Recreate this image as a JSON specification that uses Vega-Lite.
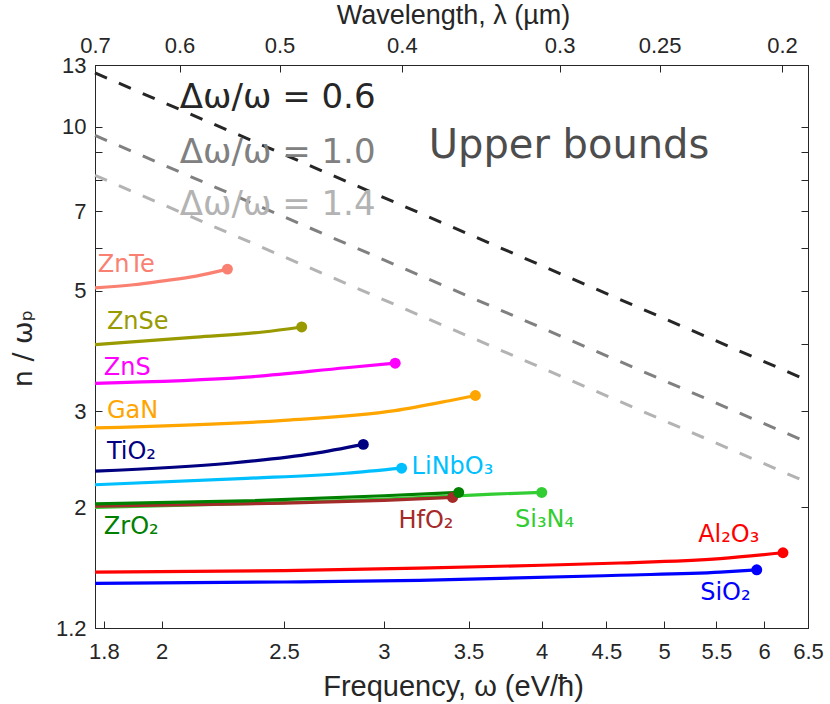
{
  "$schema": "https://vega.github.io/schema/vega-lite/v6.json",
  "width": 713,
  "height": 563,
  "autosize": {"type": "none"},
  "padding": {"left": 95, "top": 65, "right": 22, "bottom": 76},
  "background": "white",
  "datasets": {
    "curves": [
      {"key": "Al2O3", "w": 1.7712, "v": 1.52},
      {"key": "Al2O3", "w": 2.5, "v": 1.53},
      {"key": "Al2O3", "w": 3.2, "v": 1.546},
      {"key": "Al2O3", "w": 4.0, "v": 1.565},
      {"key": "Al2O3", "w": 4.61, "v": 1.58},
      {"key": "Al2O3", "w": 5.54, "v": 1.61},
      {"key": "Al2O3", "w": 6.21, "v": 1.65},
      {"key": "SiO2", "w": 1.7712, "v": 1.45},
      {"key": "SiO2", "w": 2.5, "v": 1.458},
      {"key": "SiO2", "w": 3.2, "v": 1.468},
      {"key": "SiO2", "w": 4.61, "v": 1.5},
      {"key": "SiO2", "w": 5.54, "v": 1.52},
      {"key": "SiO2", "w": 5.92, "v": 1.535},
      {"key": "ZnTe", "w": 1.7712, "v": 5.06},
      {"key": "ZnTe", "w": 1.9, "v": 5.13},
      {"key": "ZnTe", "w": 2.0, "v": 5.21},
      {"key": "ZnTe", "w": 2.13, "v": 5.32},
      {"key": "ZnTe", "w": 2.255, "v": 5.48},
      {"key": "ZnSe", "w": 1.7712, "v": 3.98},
      {"key": "ZnSe", "w": 2.13, "v": 4.11},
      {"key": "ZnSe", "w": 2.406, "v": 4.2},
      {"key": "ZnSe", "w": 2.582, "v": 4.29},
      {"key": "ZnS", "w": 1.7712, "v": 3.38},
      {"key": "ZnS", "w": 2.334, "v": 3.47},
      {"key": "ZnS", "w": 2.8, "v": 3.61},
      {"key": "ZnS", "w": 3.062, "v": 3.68},
      {"key": "GaN", "w": 1.7712, "v": 2.8},
      {"key": "GaN", "w": 2.5, "v": 2.89},
      {"key": "GaN", "w": 3.06, "v": 3.01},
      {"key": "GaN", "w": 3.38, "v": 3.14},
      {"key": "GaN", "w": 3.544, "v": 3.21},
      {"key": "TiO2", "w": 1.7712, "v": 2.33},
      {"key": "TiO2", "w": 2.264, "v": 2.41},
      {"key": "TiO2", "w": 2.636, "v": 2.51},
      {"key": "TiO2", "w": 2.889, "v": 2.61},
      {"key": "LiNbO3", "w": 1.7712, "v": 2.2},
      {"key": "LiNbO3", "w": 2.334, "v": 2.26},
      {"key": "LiNbO3", "w": 2.8, "v": 2.31},
      {"key": "LiNbO3", "w": 3.098, "v": 2.36},
      {"key": "Si3N4", "w": 1.7712, "v": 2.0},
      {"key": "Si3N4", "w": 2.5, "v": 2.04},
      {"key": "Si3N4", "w": 3.0, "v": 2.07},
      {"key": "Si3N4", "w": 3.44, "v": 2.1},
      {"key": "Si3N4", "w": 3.66, "v": 2.115},
      {"key": "Si3N4", "w": 4.0, "v": 2.13},
      {"key": "HfO2", "w": 1.7712, "v": 2.01},
      {"key": "HfO2", "w": 2.5, "v": 2.035},
      {"key": "HfO2", "w": 3.0, "v": 2.06},
      {"key": "HfO2", "w": 3.4, "v": 2.085},
      {"key": "ZrO2", "w": 1.7712, "v": 2.03},
      {"key": "ZrO2", "w": 2.33, "v": 2.055},
      {"key": "ZrO2", "w": 3.0, "v": 2.1},
      {"key": "ZrO2", "w": 3.438, "v": 2.13}
    ],
    "bounds": [
      {"key": "b06", "w": 1.7712, "v": 12.57},
      {"key": "b06", "w": 6.5, "v": 3.42},
      {"key": "b10", "w": 1.7712, "v": 9.65},
      {"key": "b10", "w": 6.5, "v": 2.63},
      {"key": "b14", "w": 1.7712, "v": 8.15},
      {"key": "b14", "w": 6.5, "v": 2.22}
    ],
    "names": [
      {"key": "ZnTe", "label": "ZnTe", "w": 1.78, "v": 5.42},
      {"key": "ZnSe", "label": "ZnSe", "w": 1.81, "v": 4.26},
      {"key": "ZnS", "label": "ZnS", "w": 1.8, "v": 3.5},
      {"key": "GaN", "label": "GaN", "w": 1.81, "v": 2.92},
      {"key": "TiO2", "label": "TiO₂", "w": 1.81, "v": 2.457},
      {"key": "LiNbO3", "label": "LiNbO₃", "w": 3.155, "v": 2.305},
      {"key": "ZrO2", "label": "ZrO₂", "w": 1.8, "v": 1.789},
      {"key": "HfO2", "label": "HfO₂", "w": 3.08, "v": 1.83},
      {"key": "Si3N4", "label": "Si₃N₄", "w": 3.81, "v": 1.84},
      {"key": "Al2O3", "label": "Al₂O₃", "w": 5.32, "v": 1.726},
      {"key": "SiO2", "label": "SiO₂", "w": 5.34, "v": 1.35}
    ],
    "boundnames": [
      {"key": "b06", "label": "Δω/ω = 0.6", "w": 2.067, "v": 10.83},
      {"key": "b10", "label": "Δω/ω = 1.0", "w": 2.067, "v": 8.58},
      {"key": "b14", "label": "Δω/ω = 1.4", "w": 2.067, "v": 6.89}
    ],
    "note": [
      {"label": "Upper bounds", "w": 3.255, "v": 8.77}
    ]
  },
  "encoding": {
    "x": {"field": "w", "type": "quantitative", "scale": {"type": "log", "domain": [1.7712, 6.5], "nice": false}, "axis": null},
    "y": {"field": "v", "type": "quantitative", "scale": {"type": "log", "domain": [1.2, 13], "nice": false}, "axis": null},
    "color": {
      "field": "key",
      "type": "nominal",
      "legend": null,
      "scale": {
        "domain": ["b06", "b10", "b14", "ZnTe", "ZnSe", "ZnS", "GaN", "TiO2", "LiNbO3", "ZrO2", "HfO2", "Si3N4", "Al2O3", "SiO2"],
        "range": ["#262626", "#808080", "#b3b3b3", "#fa8072", "#999900", "#ff00ff", "#ffa500", "#000080", "#00bfff", "#008000", "#a52a2a", "#32cd32", "#ff0000", "#0000ff"]
      }
    }
  },
  "layer": [
    {
      "data": {"name": "bounds"},
      "mark": {"type": "line", "strokeWidth": 3, "strokeDash": [13, 13]},
      "encoding": {
        "x": {
          "field": "w", "type": "quantitative",
          "scale": {"type": "log", "domain": [1.7712, 6.5], "nice": false},
          "axis": {
            "orient": "top",
            "values": [1.7712, 2.0664, 2.4797, 3.0996, 4.1328, 4.9594, 6.1992],
            "labelExpr": "format(1.23984 / datum.value, '.2~g')",
            "labelPadding": 20,
            "labelBaseline": "alphabetic",
            "title": "Wavelength, λ (µm)",
            "titleFontSize": 27,
            "titleX": 358,
            "titleY": -42,
            "titleAlign": "center",
            "titleBaseline": "alphabetic"
          }
        },
        "y": {
          "field": "v", "type": "quantitative",
          "scale": {"type": "log", "domain": [1.2, 13], "nice": false},
          "axis": {"orient": "right", "values": [2, 3, 4, 5, 6, 7, 8, 9, 10], "labels": false, "title": null}
        }
      }
    },
    {
      "data": {"name": "curves"},
      "mark": {"type": "line", "strokeWidth": 3.2, "interpolate": "monotone"},
      "encoding": {
        "x": {
          "field": "w", "type": "quantitative",
          "scale": {"type": "log", "domain": [1.7712, 6.5], "nice": false},
          "axis": {
            "orient": "bottom",
            "values": [1.8, 2, 2.5, 3, 3.5, 4, 4.5, 5, 5.5, 6, 6.5],
            "format": "~g",
            "labelPadding": 37,
            "labelBaseline": "alphabetic",
            "title": "Frequency, ω (eV/ħ)",
            "titleFontSize": 29,
            "titleX": 358,
            "titleY": 67,
            "titleAlign": "center",
            "titleBaseline": "alphabetic"
          }
        },
        "y": {
          "field": "v", "type": "quantitative",
          "scale": {"type": "log", "domain": [1.2, 13], "nice": false},
          "axis": {
            "orient": "left",
            "values": [1.2, 2, 3, 4, 5, 6, 7, 8, 9, 10, 13],
            "format": "~g",
            "labelExpr": "indexof([4, 6, 8, 9], datum.value) >= 0 ? '' : datum.label",
            "labelPadding": 16,
            "title": "n / ωₚ",
            "titleFont": "DejaVu Sans",
            "titleFontSize": 27,
            "titleAngle": -90,
            "titleX": -64,
            "titleY": 283,
            "titleAlign": "center",
            "titleBaseline": "alphabetic"
          }
        }
      }
    },
    {
      "data": {"name": "curves"},
      "transform": [
        {"joinaggregate": [{"op": "max", "field": "w", "as": "wmax"}], "groupby": ["key"]},
        {"filter": "datum.w == datum.wmax"}
      ],
      "mark": {"type": "circle", "size": 120, "opacity": 1}
    },
    {
      "data": {"name": "names"},
      "mark": {"type": "text", "align": "left", "baseline": "alphabetic", "font": "DejaVu Sans", "fontSize": 24},
      "encoding": {"text": {"field": "label"}}
    },
    {
      "data": {"name": "boundnames"},
      "mark": {"type": "text", "align": "left", "baseline": "alphabetic", "font": "DejaVu Sans", "fontSize": 34},
      "encoding": {"text": {"field": "label"}}
    },
    {
      "data": {"name": "note"},
      "mark": {"type": "text", "align": "left", "baseline": "alphabetic", "font": "DejaVu Sans", "fontSize": 40},
      "encoding": {"text": {"field": "label"}, "color": {"value": "#4d4d4d"}}
    }
  ],
  "resolve": {"axis": {"x": "independent", "y": "independent"}},
  "config": {
    "view": {"stroke": "#262626", "strokeWidth": 1},
    "axis": {
      "grid": false,
      "domainColor": "#262626",
      "domainWidth": 1,
      "tickColor": "#262626",
      "tickWidth": 1,
      "tickSize": -7,
      "labelColor": "#262626",
      "labelFont": "Liberation Sans",
      "labelFontSize": 22,
      "labelFlush": false,
      "labelOverlap": false,
      "titleColor": "#262626",
      "titleFont": "Liberation Sans",
      "titleFontSize": 27,
      "titleFontWeight": "normal"
    }
  }
}
